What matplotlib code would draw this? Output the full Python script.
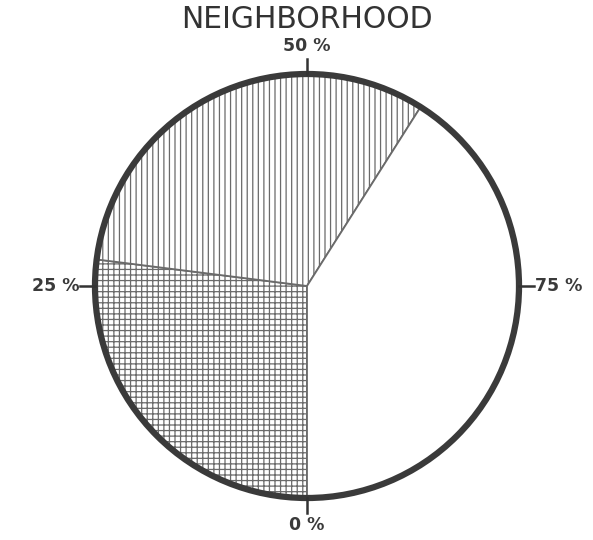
import matplotlib
matplotlib.use("Agg")
import matplotlib.pyplot as plt
import numpy as np

title = "NEIGHBORHOOD"
shares = [27, 32, 41]          # percent, clockwise from bottom (0 %)
hatches = ["+++", "|||", ""]
tick_pcts = [0, 25, 50, 75]
tick_labels = ["0 %", "25 %", "50 %", "75 %"]

W, H = 593, 540
fig = plt.figure(figsize=(W / 100, H / 100), dpi=100)
ax = fig.add_axes([0, 0, 1, 1])

cx, cy, r = 307, 540 - 286, 212
plt.rcParams["hatch.linewidth"] = 0.9

wedges, _ = ax.pie(shares, center=(cx, cy), radius=r, startangle=-90,
                   counterclock=False, colors=["white"] * 3,
                   wedgeprops=dict(edgecolor="#6a6a6a", linewidth=1.3),
                   frame=True)
for w, h in zip(wedges, hatches):
    w.set_hatch(h)
ax.set_xlim(0, W)
ax.set_ylim(0, H)
ax.set_aspect("equal")
ax.axis("off")

circle = plt.Circle((cx, cy), r, fill=False, edgecolor="#3a3a3a", linewidth=4.5, zorder=5)
ax.add_patch(circle)

tick_len = 15
for p, lab in zip(tick_pcts, tick_labels):
    th = np.deg2rad(-90 - 360 * p / 100)
    x0, y0 = cx + r * np.cos(th), cy + r * np.sin(th)
    x1, y1 = cx + (r + tick_len) * np.cos(th), cy + (r + tick_len) * np.sin(th)
    ax.plot([x0, x1], [y0, y1], color="#333333", lw=1.8, zorder=6)
    kw = dict(fontsize=12.5, fontweight="bold", color="#3a3a3a")
    if p == 0:
        ax.text(x1, y1 - 3, lab, ha="center", va="top", **kw)
    elif p == 50:
        ax.text(x1, y1 + 4, lab, ha="center", va="bottom", **kw)
    elif p == 25:
        ax.text(x1 - 1, y1, lab, ha="right", va="center", **kw)
    else:
        ax.text(x1 + 1, y1, lab, ha="left", va="center", **kw)

ax.text(cx, 540 - 20, title, ha="center", va="center", fontsize=21.5, color="#333333")

fig.savefig("out.png", dpi=100)
